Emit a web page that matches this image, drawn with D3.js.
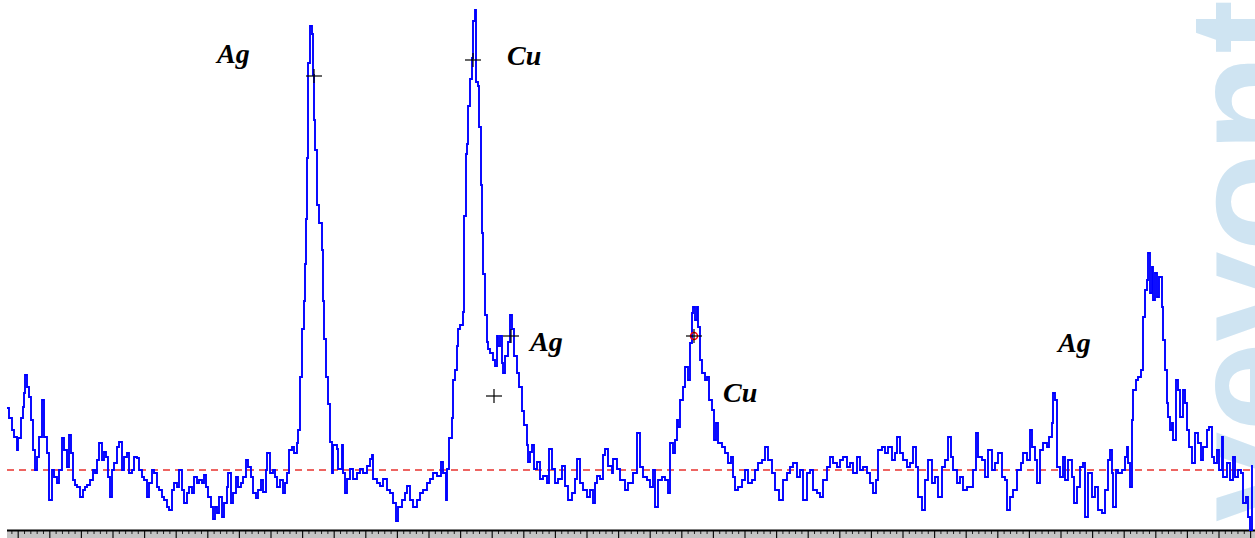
<!DOCTYPE html>
<html>
<head>
<meta charset="utf-8">
<script src="https://cdn.jsdelivr.net/npm/d3@7"></script>
<style>
  html, body { margin: 0; padding: 0; background: #ffffff; }
  svg { display: block; }
</style>
</head>
<body>
<svg id="chart" width="1255" height="538"></svg>
<script>
// ---------------- DATA ----------------
const channel = [7,9,12,14,17,18,21,23,24,25,27,29,31,33,35,37,39,42,44,47,49,52,54,57,59,62,64,67,69,71,73,75,77,80,83,85,87,90,93,95,97,99,102,104,106,108,110,112,114,117,119,122,124,127,129,132,134,137,139,142,144,147,149,152,154,157,159,162,164,167,169,172,174,177,179,182,184,187,189,192,194,197,199,202,204,206,208,211,213,215,217,219,222,224,227,228,231,233,236,238,241,243,246,248,251,253,256,258,261,263,266,267,270,273,275,277,280,283,285,287,289,292,294,297,298,
300,302,304,305,306,307,308,310,312,313,314,315,317,319,322,323,324,326,328,330,332,333,337,338,342,343,345,347,350,353,357,360,363,367,370,372,373,377,380,383,387,390,393,396,398,402,405,407,410,413,417,420,423,427,430,433,437,441,443,446,447,449,452,453,455,457,458,460,463,464,466,467,468,470,472,473,475,476,478,479,481,482,483,485,487,488,490,493,495,497,498,500,502,503,505,508,510,512,514,517,519,522,524,527,528,530,532,534,537,540,543,547,549,552,555,558,562,565,568,572,575,577,580,583,587,590,593,595,597,600,603,605,608,612,613,617,
620,625,628,633,637,640,643,647,650,653,655,658,662,665,668,670,673,675,677,678,680,683,685,688,690,692,693,695,697,698,700,702,705,707,709,712,714,716,718,722,725,728,731,733,735,738,742,745,748,752,755,758,762,765,768,772,775,779,783,787,790,793,797,800,803,807,810,813,817,820,823,827,830,833,837,840,843,847,850,853,857,860,863,867,870,873,876,878,882,885,888,892,895,897,900,903,907,910,913,916,918,922,925,928,932,935,
938,942,945,948,951,953,957,960,963,967,970,973,976,978,982,985,988,992,995,998,1002,1005,1007,1010,1013,1017,1021,1023,1027,1030,1032,1035,1037,1040,1043,1047,1049,1052,1053,1055,1057,1060,1063,1065,1068,1072,1074,1077,1080,1083,1085,1088,1092,1095,1098,1102,1105,1108,1110,1112,1113,1116,1118,1122,1125,1127,1128,1130,1132,1133,1136,1138,1141,1143,1145,1147,1148,1150,1152,1153,1155,1157,1159,1162,1163,1165,1167,1168,1170,1172,1173,1176,1178,1180,1183,1185,1187,1189,1192,1195,1198,1201,1203,1207,1209,1212,1214,1217,1219,1222,1223,1227,1230,1233,1235,1238,1241,1243,1246,1248,1250,1252];

const counts = [122,112,100,93,80,92,112,123,137,155,143,133,110,80,60,73,93,130,93,77,30,60,53,47,60,92,80,63,95,77,50,45,43,33,40,43,45,50,60,57,70,87,70,78,73,53,33,60,67,83,88,60,73,77,57,60,73,72,60,53,50,33,47,60,57,43,40,33,30,23,20,40,47,43,60,40,27,37,43,37,53,47,50,47,55,43,33,23,11,23,17,33,13,27,43,57,27,37,53,43,47,53,70,63,53,37,32,40,50,38,60,77,57,60,53,43,50,37,47,57,80,83,77,87,100,
153,201,229,266,311,372,467,504,496,455,410,380,325,307,280,229,191,153,126,88,57,85,81,61,85,57,37,51,61,51,57,61,57,64,71,75,51,47,44,51,40,37,27,9,23,30,37,44,30,23,30,37,40,47,51,57,54,68,57,30,61,92,112,150,160,184,201,205,218,314,376,386,424,451,472,509,520,448,444,403,345,297,256,215,188,181,177,170,164,194,184,194,167,157,174,188,215,201,174,157,143,119,105,85,68,78,85,61,68,51,54,47,81,61,47,51,64,44,30,37,51,71,47,40,33,40,27,47,54,51,75,81,64,57,71,61,
50,40,47,57,97,63,53,50,43,60,23,50,53,50,37,87,77,90,110,103,130,143,163,150,187,217,223,210,223,203,170,157,150,153,130,120,90,107,87,83,77,67,73,53,40,43,50,60,47,50,60,67,70,83,70,57,40,30,50,57,63,67,53,60,30,57,60,40,37,33,50,63,73,67,63,70,73,63,67,57,73,60,63,57,47,37,50,80,83,77,83,70,77,93,77,70,63,67,83,63,33,20,50,70,47,53,
33,63,70,93,73,60,47,53,40,43,43,60,97,73,70,53,80,60,67,77,53,50,20,33,40,60,67,77,70,100,83,70,47,80,87,83,93,107,137,130,63,53,73,50,70,53,27,43,63,67,13,57,33,43,20,17,40,70,80,57,23,60,57,60,73,83,67,43,110,140,150,153,160,213,240,250,277,237,263,230,257,233,253,223,190,160,127,113,100,107,90,150,140,113,140,127,100,83,67,97,87,70,83,100,103,73,67,80,60,93,53,67,50,73,53,60,57,27,33,13,0,65];

// background / threshold level (dashed red line)
const thresholdCounts = 60;

// identified peaks (cross markers)
const peakChannel = [314, 473, 511, 494, 694];
const peakCounts  = [454, 470, 194, 134, 194];
const peakCircled = [false, false, false, false, true];

// element labels
const labelText    = ["Ag", "Cu", "Ag", "Cu", "Ag"];
const labelChannel = [217, 507, 530, 723, 1058];
const labelCounts  = [467, 465, 179, 128, 178];

// axis ticks (channel units)
const tickStart = 17.7, majorStep = 31.6, minorPerMajor = 5;

// watermark
const watermarkText = "vevont";

// ---------------- CHART ----------------
const W = 1255, H = 538;
const svg = d3.select("#chart");

const x = d3.scaleLinear().domain([0, 1255]).range([0, 1255]);
const y = d3.scaleLinear().domain([0, 520]).range([530, 10]);

// watermark (behind)
svg.append("text")
  .attr("transform", "translate(1302,522) rotate(-90)")
  .attr("font-family", "Liberation Sans, Arial, sans-serif")
  .attr("font-weight", "bold")
  .attr("font-size", 162)
  .attr("fill", "#cfe4f2")
  .text(watermarkText);

// axis band
svg.append("rect")
  .attr("x", x(7)).attr("y", y(0))
  .attr("width", W - x(7)).attr("height", H - y(0))
  .attr("fill", "#c4c4c4");

const minorStep = majorStep / minorPerMajor;
const allTicks = d3.range(tickStart - minorStep * 1, 1256, minorStep).filter(v => x(v) >= 8);
const majorTicks = allTicks.filter(v => Math.abs(((v - tickStart) / majorStep) - Math.round((v - tickStart) / majorStep)) < 1e-3);
const minorTicks = allTicks.filter(v => !majorTicks.includes(v));

const axisG = svg.append("g").attr("transform", `translate(0,${y(0)})`);
axisG.call(d3.axisBottom(x).tickValues(minorTicks).tickSize(4).tickFormat(""))
  .call(g => g.select(".domain").remove())
  .selectAll("line").attr("stroke", "#222").attr("stroke-width", 1);
const axisG2 = svg.append("g").attr("transform", `translate(0,${y(0)})`);
axisG2.call(d3.axisBottom(x).tickValues(majorTicks).tickSize(8).tickFormat(""))
  .call(g => g.select(".domain").remove())
  .selectAll("line").attr("stroke", "#111").attr("stroke-width", 1.2);
svg.append("line")
  .attr("x1", x(7)).attr("x2", W)
  .attr("y1", y(0) + 0.5).attr("y2", y(0) + 0.5)
  .attr("stroke", "#000").attr("stroke-width", 2);

// threshold dashed line
svg.append("line")
  .attr("x1", x(7)).attr("x2", W)
  .attr("y1", y(thresholdCounts)).attr("y2", y(thresholdCounts))
  .attr("stroke", "#e8322e").attr("stroke-width", 1.4)
  .attr("stroke-dasharray", "7,5");

// spectrum trace
const pts = channel.map((c, i) => [c, counts[i]]);
svg.append("path")
  .datum(pts)
  .attr("fill", "none")
  .attr("stroke", "#0000ff")
  .attr("stroke-width", 1.9)
  .attr("stroke-linejoin", "miter")
  .attr("d", d3.line().x(d => x(d[0])).y(d => y(d[1])).curve(d3.curveStepAfter));

// peak markers
peakChannel.forEach((c, i) => {
  const cx = x(c), cy = y(peakCounts[i]);
  if (peakCircled[i]) {
    svg.append("circle").attr("cx", cx).attr("cy", cy).attr("r", 3.5)
      .attr("fill", "none").attr("stroke", "#ff0000").attr("stroke-width", 1.5);
  }
  svg.append("line").attr("x1", cx - 8).attr("x2", cx + 8).attr("y1", cy).attr("y2", cy)
    .attr("stroke", "#000").attr("stroke-width", 1.2);
  svg.append("line").attr("x1", cx).attr("x2", cx).attr("y1", cy - 7).attr("y2", cy + 7)
    .attr("stroke", "#000").attr("stroke-width", 1.2);
});

// labels
labelText.forEach((t, i) => {
  svg.append("text")
    .attr("x", x(labelChannel[i])).attr("y", y(labelCounts[i]))
    .attr("font-family", "Liberation Serif, Times New Roman, serif")
    .attr("font-style", "italic").attr("font-weight", "bold")
    .attr("font-size", 28).attr("fill", "#000")
    .text(t);
});
</script>
</body>
</html>
